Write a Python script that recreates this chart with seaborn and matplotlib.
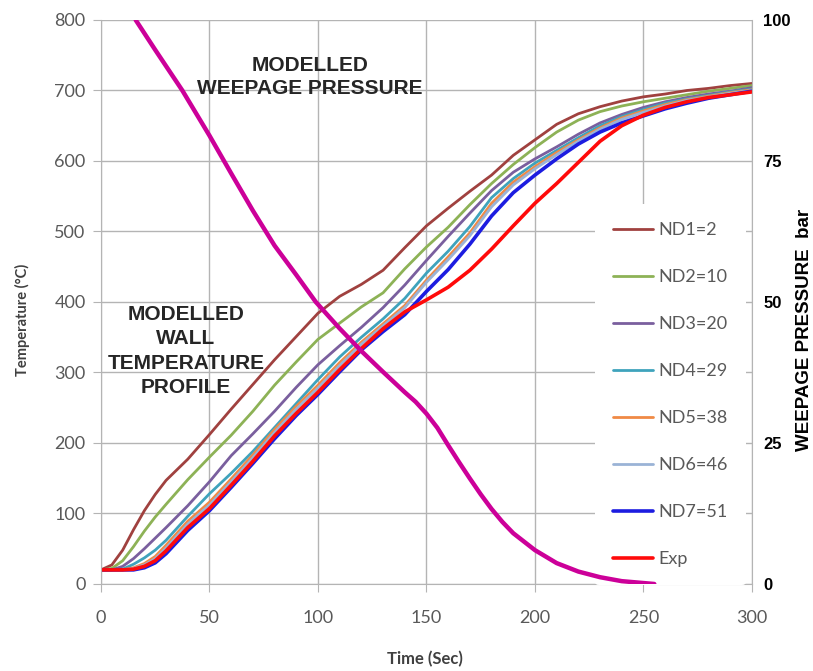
import pandas as pd
import matplotlib
matplotlib.use('Agg')
import matplotlib.pyplot as plt
import seaborn as sns

# time axis (s) shared by all wall temperature curves
time_s = [0, 5, 10, 15, 20, 25, 30, 40, 50, 60, 70, 80, 90, 100, 110, 120, 130,
          140, 150, 160, 170, 180, 190, 200, 210, 220, 230, 240, 250, 260, 270,
          280, 290, 300]

nd1 = [20, 27, 48, 77, 104, 127, 147, 177, 212, 248, 283, 318, 351, 384, 408, 425, 445,
       477, 508, 533, 557, 580, 608, 630, 652, 667, 677, 685, 691, 695, 700, 703, 707, 710]
nd2 = [20, 22, 33, 53, 75, 95, 113, 148, 180, 211, 245, 282, 315, 347, 370, 393, 413,
       447, 478, 506, 538, 568, 595, 619, 641, 658, 670, 678, 684, 689, 694, 699, 703, 707]
nd3 = [20, 20, 25, 36, 50, 65, 80, 111, 145, 182, 213, 245, 279, 311, 338, 364, 392,
       424, 459, 493, 526, 558, 584, 603, 620, 638, 654, 666, 676, 684, 690, 695, 699, 704]
nd4 = [20, 20, 21, 28, 37, 48, 62, 96, 128, 157, 188, 222, 256, 290, 322, 350, 376,
       405, 441, 472, 507, 548, 575, 597, 615, 633, 650, 663, 673, 682, 688, 693, 698, 702]
nd5 = [20, 20, 20, 23, 29, 39, 55, 89, 116, 149, 183, 219, 252, 282, 314, 343, 369,
       395, 431, 464, 498, 540, 570, 592, 612, 630, 647, 661, 671, 680, 687, 692, 697, 701]
nd6 = [20, 20, 20, 22, 27, 36, 51, 85, 112, 145, 179, 215, 248, 278, 310, 340, 366,
       392, 428, 460, 494, 535, 566, 589, 609, 628, 645, 659, 669, 678, 686, 691, 696, 700]
nd7 = [20, 20, 20, 20, 23, 30, 43, 76, 104, 137, 171, 206, 239, 269, 301, 332, 358,
       382, 415, 446, 482, 522, 555, 580, 603, 624, 641, 654, 664, 674, 682, 689, 694, 699]
exp = [20, 20, 20, 21, 25, 33, 47, 80, 107, 140, 174, 210, 242, 272, 304, 334, 362,
       386, 403, 421, 445, 475, 508, 540, 568, 598, 628, 650, 665, 676, 684, 690, 694, 698]

series_names = ['ND1=2', 'ND2=10', 'ND3=20', 'ND4=29', 'ND5=38', 'ND6=46', 'ND7=51', 'Exp']

# modelled weepage pressure (bar)
p_time = [16, 25, 37.5, 50, 60, 70, 80, 90, 99, 110, 120, 130, 140, 145, 150, 155,
          160, 165, 170, 175, 180, 185, 190, 200, 210, 220, 230, 240, 255]
pressure = [100, 94.7, 87.5, 79.5, 72.8, 66.2, 60, 54.8, 50, 45.3, 41.3, 37.6, 34,
            32.3, 30.2, 27.7, 24.6, 21.6, 18.7, 15.9, 13.3, 11, 9, 6, 3.7, 2.2, 1.2,
            0.5, 0]

temp_ticks = list(range(0, 801, 100))
time_ticks = list(range(0, 301, 50))
pressure_ticks = [0, 25, 50, 75, 100]

colors = {'ND1=2': '#A0413F', 'ND2=10': '#8DB256', 'ND3=20': '#7A5F9E',
          'ND4=29': '#3FA3BC', 'ND5=38': '#F08A45', 'ND6=46': '#9AB3D6',
          'ND7=51': '#1C1CE0', 'Exp': '#FF0A0A'}
widths = {'ND1=2': 2.0, 'ND2=10': 2.0, 'ND3=20': 2.0, 'ND4=29': 2.0,
          'ND5=38': 2.0, 'ND6=46': 2.0, 'ND7=51': 2.6, 'Exp': 2.6}

df = pd.DataFrame({'Time': time_s, 'ND1=2': nd1, 'ND2=10': nd2, 'ND3=20': nd3,
                   'ND4=29': nd4, 'ND5=38': nd5, 'ND6=46': nd6, 'ND7=51': nd7,
                   'Exp': exp})
long = df.melt(id_vars='Time', var_name='Series', value_name='Temp')

sns.set_style('white')
plt.rcParams['font.family'] = ['Lato', 'DejaVu Sans']

fig = plt.figure(figsize=(8.13, 6.71), dpi=100)
ax = fig.add_axes([0.1242, 0.1297, 0.8007, 0.8405])

for name in series_names:
    sns.lineplot(data=long[long['Series'] == name], x='Time', y='Temp', ax=ax,
                 color=colors[name], linewidth=widths[name], label=name)

grid_c = '#B4B4B4'
ax.set_xlim(0, 300)
ax.set_ylim(0, 800)
ax.set_xticks(time_ticks)
ax.set_yticks(temp_ticks)
ax.grid(True, color=grid_c, lw=1)
ax.set_axisbelow(True)
ax.spines['top'].set_visible(False)
for s in ['left', 'bottom', 'right']:
    ax.spines[s].set_color(grid_c)
ax.tick_params(axis='both', bottom=True, left=True, direction='out', length=6,
               color=grid_c, labelcolor='#595959', labelsize=13)
ax.tick_params(axis='x', pad=13)
ax.tick_params(axis='y', pad=5)

ax.set_xlabel('Time (Sec)', fontsize=12, fontweight='bold', color='#404040', va='center')
ax.xaxis.set_label_coords(0.498, -0.133)
ax.set_ylabel('Temperature (°C)', fontsize=10.5, fontweight='bold', color='#404040',
              va='center')
ax.yaxis.set_label_coords(-0.121, 0.468)

# legend sits in the plot area on a white box that hides the grid
handles, labels = ax.get_legend_handles_labels()
ax.legend(handles, labels, loc='upper left', bbox_to_anchor=(0.759, 0.674),
          frameon=True, facecolor='white', edgecolor='none', framealpha=1,
          fontsize=13, labelspacing=1.72, handlelength=2.2, handletextpad=0.3,
          borderpad=1.0, borderaxespad=0, labelcolor='#595959')

ax2 = ax.twinx()
sns.lineplot(x=p_time, y=pressure, ax=ax2, color='#CC0099', linewidth=3.2, legend=False)
ax2.set_ylim(0, 100)
ax2.set_yticks(pressure_ticks)
ax2.set_yticklabels([str(v) for v in pressure_ticks], fontweight='bold',
                    family=['Liberation Sans'], color='black')
ax2.tick_params(axis='y', right=True, length=0, pad=8, labelsize=12)
for s in ax2.spines.values():
    s.set_visible(False)
ax2.set_ylabel('WEEPAGE PRESSURE  bar', fontsize=13.5, fontweight='bold',
               family=['Liberation Sans'], color='black', va='center')
ax2.yaxis.set_label_coords(1.081, 0.45)

ax.text(0.321, 0.899, 'MODELLED\nWEEPAGE PRESSURE', transform=ax.transAxes,
        ha='center', va='center', multialignment='center', fontsize=15,
        fontweight='bold', family=['Liberation Sans'], linespacing=1.27)
ax.text(0.1306, 0.413, 'MODELLED\nWALL\nTEMPERATURE\nPROFILE', transform=ax.transAxes,
        ha='center', va='center', multialignment='center', fontsize=15,
        fontweight='bold', family=['Liberation Sans'], linespacing=1.34)

fig.savefig('out.png', dpi=100)
